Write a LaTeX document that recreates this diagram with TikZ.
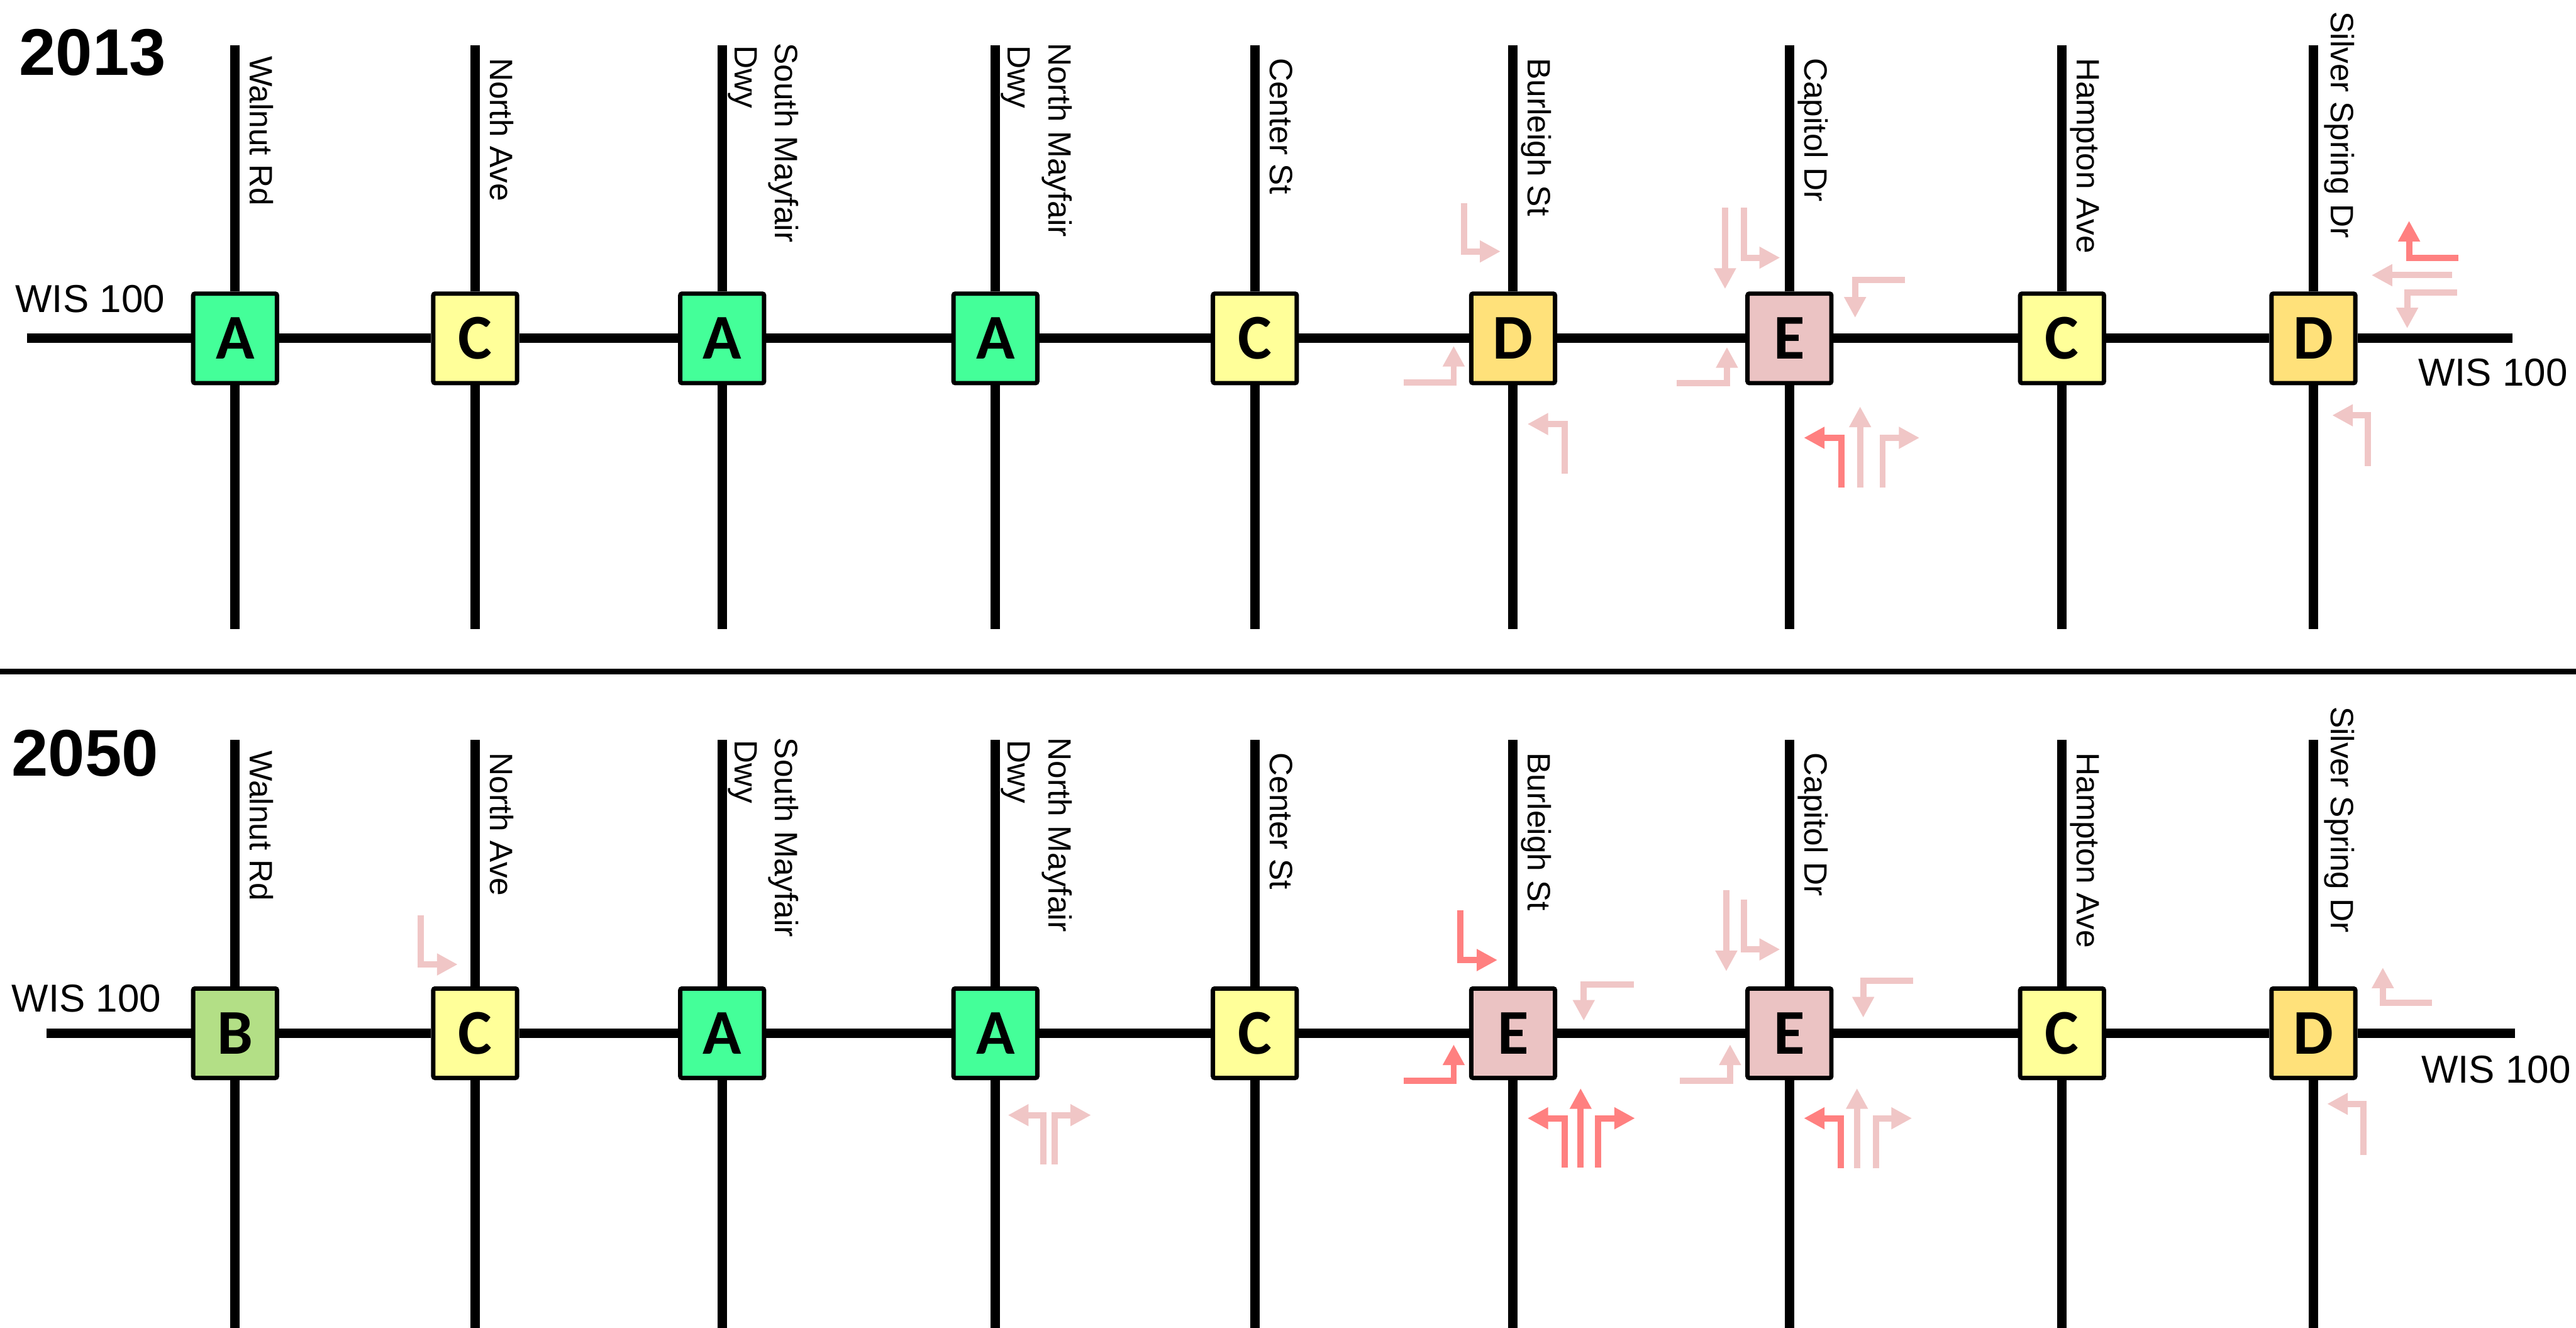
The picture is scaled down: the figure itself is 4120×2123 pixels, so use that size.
\documentclass[tikz,border=0pt]{standalone}
\usepackage{fontspec}
\setmainfont{Liberation Sans}
\newfontfamily\boxfont{Carlito}
\usetikzlibrary{arrows.meta}
\definecolor{cA}{HTML}{44FF99}
\definecolor{cB}{HTML}{B3DF86}
\definecolor{cC}{HTML}{FFFF99}
\definecolor{cD}{HTML}{FFE17A}
\definecolor{cE}{HTML}{EBC3C3}
\definecolor{ltc}{HTML}{F0C6C6}
\definecolor{brc}{HTML}{FF8080}
\tikzset{
 road/.style={line width=0.15cm},
 los/.style={draw, line width=0.07cm, minimum width=1.34cm, minimum height=1.43cm, inner sep=0pt, rounded corners=0.03cm, font=\boxfont\bfseries\fontsize{29}{30}\selectfont},
 mv/.style={line width=0.1cm, line join=miter, -{Triangle[length=0.33cm,width=0.33cm]}},
 lt/.style={mv, draw=ltc},
 br/.style={mv, draw=brc},
 street/.style={rotate=-90, anchor=base west, inner sep=0pt, font=\fontsize{14.7}{17}\selectfont},
 wis/.style={anchor=base west, inner sep=0pt, font=\fontsize{17.7}{20}\selectfont},
 year/.style={anchor=base west, inner sep=0pt, font=\bfseries\fontsize{30}{36}\selectfont},
}
\begin{document}
\begin{tikzpicture}[x=0.01cm,y=-0.01cm]
\useasboundingbox (0,0) rectangle (4120,2123);
\fill[white] (0,0) rectangle (4120,2123);

% separator
\coordinate (sepL) at (0,1074); \coordinate (sepR) at (4120,1074);
\draw[line width=0.09cm] (sepL) -- (sepR);

% intersection boxes
\foreach \x/\r [count=\i] in {376/A,760/C,1155/A,1592/A,2007/C,2420/D,2862/E,3298/C,3700/D}{
 \node[los, fill=c\r] (t\i) at (\x,541) {\r};
}
\foreach \x/\r [count=\i] in {376/B,760/C,1155/A,1592/A,2007/C,2420/E,2862/E,3298/C,3700/D}{
 \node[los, fill=c\r] (b\i) at (\x,1652) {\r};
}

% main road
\coordinate (tw) at (43,541); \coordinate (te) at (4018,541);
\draw[road] (tw) -- (t1) -- (t2) -- (t3) -- (t4) -- (t5) -- (t6) -- (t7) -- (t8) -- (t9) -- (te);
\coordinate (bw) at (74,1652); \coordinate (be) at (4022,1652);
\draw[road] (bw) -- (b1) -- (b2) -- (b3) -- (b4) -- (b5) -- (b6) -- (b7) -- (b8) -- (b9) -- (be);

% cross streets
\foreach \x [count=\i] in {376,760,1155,1592,2007,2420,2862,3298,3700}{
 \coordinate (tn\i) at (\x,72); \coordinate (ts\i) at (\x,1006);
 \coordinate (bn\i) at (\x,1183); \coordinate (bs\i) at (\x,2123);
 \draw[road] (tn\i) -- (t\i);
 \draw[road] (t\i) -- (ts\i);
 \draw[road] (bn\i) -- (b\i);
 \draw[road] (b\i) -- (bs\i);
}

% labels
\node[year] (y1) at (30,120) {2013};
\node[year] (y2) at (18,1241) {2050};
\node[wis] (w1) at (24,499) {WIS 100};
\node[wis] (w2) at (3867,617) {WIS 100};
\node[wis] (w3) at (18,1618) {WIS 100};
\node[wis] (w4) at (3872,1732) {WIS 100};

\foreach \d/\s in {0/t,1111/b}{
 \node[street] (\s l1) at (400,89+\d) {Walnut Rd};
 \node[street] (\s l2) at (784,92+\d) {North Ave};
 \node[street] (\s l3a) at (1240,68+\d) {South Mayfair};
 \node[street] (\s l3b) at (1175,72+\d) {Dwy};
 \node[street] (\s l4a) at (1677,68+\d) {North Mayfair};
 \node[street] (\s l4b) at (1612,72+\d) {Dwy};
 \node[street] (\s l5) at (2031,92+\d) {Center St};
 \node[street] (\s l6) at (2444,92+\d) {Burleigh St};
 \node[street] (\s l7) at (2886,92+\d) {Capitol Dr};
 \node[street] (\s l8) at (3322,92+\d) {Hampton Ave};
 \node[street] (\s l9) at (3728,18+\d) {Silver Spring Dr};
}

% ---- 2013 movements ----
% Burleigh St (D)
\draw[lt] (2342,325) -- (2342,402) -- (2400,402);
\draw[lt] (2245,612) -- (2325,612) -- (2325,553);
\draw[lt] (2503,757) -- (2503,678) -- (2443,678);
% Capitol Dr (E)
\draw[lt] (2759,332) -- (2759,462);
\draw[lt] (2789,332) -- (2789,412) -- (2847,412);
\draw[lt] (3047,448) -- (2967,448) -- (2967,508);
\draw[lt] (2682,613) -- (2762,613) -- (2762,555);
\draw[br] (2945,780) -- (2945,700) -- (2885,700);
\draw[lt] (2975,780) -- (2975,650);
\draw[lt] (3011,780) -- (3011,700) -- (3070,700);
% Silver Spring Dr (D)
\draw[br] (3932,412) -- (3853,412) -- (3853,353);
\draw[lt] (3922,440) -- (3793,440);
\draw[lt] (3930,468) -- (3850,468) -- (3850,525);
\draw[lt] (3787,745) -- (3787,664) -- (3730,664);

% ---- 2050 movements ----
% North Ave
\draw[lt] (673,1463) -- (673,1542) -- (732,1542);
% North Mayfair Dwy
\draw[lt] (1669,1862) -- (1669,1783) -- (1612,1783);
\draw[lt] (1687,1862) -- (1687,1783) -- (1745,1783);
% Burleigh St (E)
\draw[br] (2336,1455) -- (2336,1535) -- (2395,1535);
\draw[lt] (2613,1574) -- (2533,1574) -- (2533,1632);
\draw[br] (2245,1728) -- (2325,1728) -- (2325,1670);
\draw[br] (2503,1867) -- (2503,1788) -- (2443,1788);
\draw[br] (2528,1867) -- (2528,1740);
\draw[br] (2556,1867) -- (2556,1788) -- (2615,1788);
% Capitol Dr (E)
\draw[lt] (2761,1423) -- (2761,1553);
\draw[lt] (2789,1438) -- (2789,1518) -- (2847,1518);
\draw[lt] (3060,1568) -- (2980,1568) -- (2980,1627);
\draw[lt] (2687,1728) -- (2767,1728) -- (2767,1670);
\draw[br] (2944,1868) -- (2944,1788) -- (2885,1788);
\draw[lt] (2970,1868) -- (2970,1740);
\draw[lt] (3000,1868) -- (3000,1788) -- (3058,1788);
% Silver Spring Dr (D)
\draw[lt] (3890,1603) -- (3811,1603) -- (3811,1547);
\draw[lt] (3780,1847) -- (3780,1765) -- (3722,1765);
\end{tikzpicture}
\end{document}
